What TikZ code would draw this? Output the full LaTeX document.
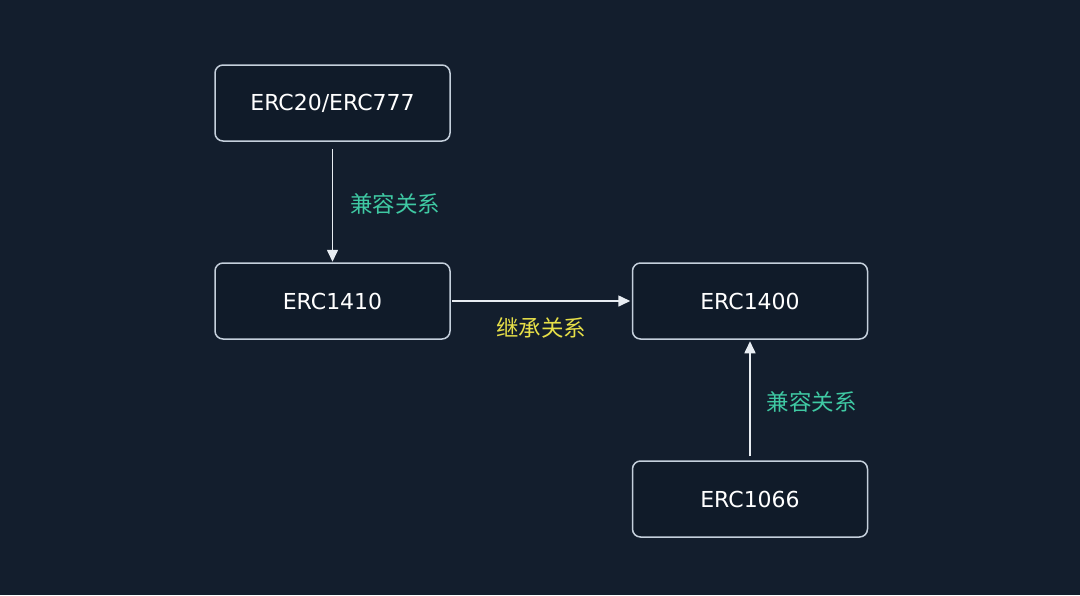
\documentclass[tikz,border=0pt]{standalone}
\usepackage{fontspec}
\setmainfont{DejaVu Sans}
\newfontfamily\cjk{Noto Sans CJK SC}
\usetikzlibrary{arrows.meta}
\definecolor{bg}{HTML}{131E2D}
\definecolor{boxfill}{HTML}{101B29}
\definecolor{boxline}{HTML}{C5D0DC}
\definecolor{arrowc}{HTML}{E8EDF2}
\definecolor{teal}{HTML}{3FC9A3}
\definecolor{yel}{HTML}{E6DF48}
\tikzset{
  ercbox/.style={draw=boxline, fill=boxfill, line width=1.5pt, rounded corners=8pt,
    minimum width=235pt, minimum height=76pt, inner sep=0pt,
    text=white, font=\fontsize{22}{26}\selectfont},
  link/.style={draw=arrowc, line width=1.6pt, -{Triangle[length=12pt,width=11pt]}},
  lbl/.style={font=\cjk\fontsize{22.5}{26}\selectfont, inner sep=0pt}
}
\begin{document}
\begin{tikzpicture}[x=1pt,y=-1pt]
\fill[bg] (0,0) rectangle (1080,595);
\useasboundingbox (0,0) rectangle (1080,595);
\node[ercbox] (a) at (332.5,103) {ERC20/ERC777};
\node[ercbox] (b) at (332.5,301) {ERC1410};
\node[ercbox] (c) at (750,301) {ERC1400};
\node[ercbox] (d) at (750,499) {ERC1066};
\draw[link, shorten <=7pt, shorten >=0.5pt] (a.south) -- (b.north)
  node[lbl, midway, anchor=west, xshift=17pt, yshift=-2pt, text=teal] {兼容关系};
\draw[link, shorten <=1pt, shorten >=1.5pt] (b.east) -- (c.west)
  node[lbl, midway, anchor=north, yshift=-16pt, text=yel] {继承关系};
\draw[link, shorten <=4pt, shorten >=1.5pt] (d.north) -- (c.south)
  node[lbl, midway, anchor=west, xshift=16pt, yshift=-2pt, text=teal] {兼容关系};
\end{tikzpicture}
\end{document}
